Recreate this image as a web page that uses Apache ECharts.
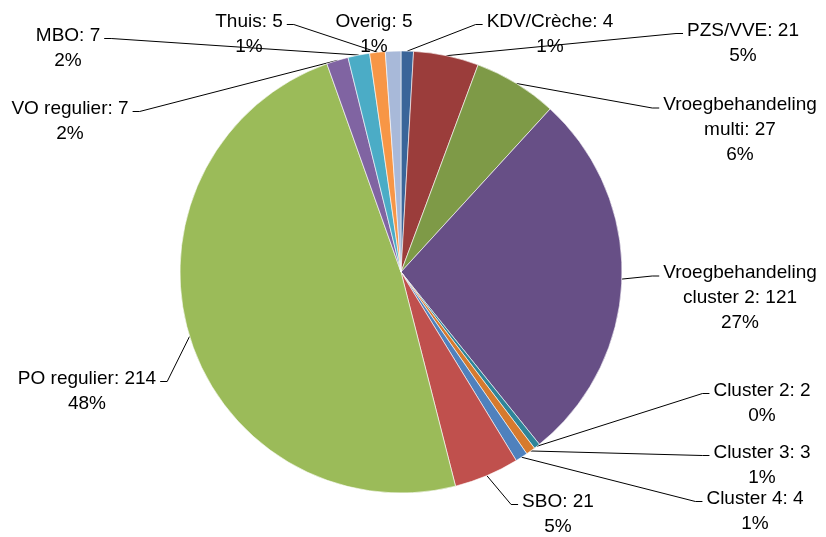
<!DOCTYPE html>
<html lang="nl">
<head>
    <meta charset="utf-8"/>
    <title>Verdeling</title>
    <script src="https://cdn.jsdelivr.net/npm/echarts@6/dist/echarts.min.js"></script>
    <style>
        html, body { margin: 0; padding: 0; background: #fff; }
        #chart { width: 826px; height: 537px; }
    </style>
</head>
<body>
    <div id="chart"></div>
    <script>
        // data, clockwise from 12 o'clock
        const categories = ['KDV/Crèche', 'PZS/VVE', 'Vroegbehandeling multi', 'Vroegbehandeling cluster 2',
            'Cluster 2', 'Cluster 3', 'Cluster 4', 'SBO', 'PO regulier', 'VO regulier', 'MBO', 'Thuis', 'Overig'];
        const values = [4, 21, 27, 121, 2, 3, 4, 21, 214, 7, 7, 5, 5];

        const colors = ['#3a6599', '#9b3d3b', '#7e9a47', '#674f86', '#2f8599', '#d67a2e', '#4f81bd',
            '#c0504d', '#9bbb59', '#8064a2', '#4bacc6', '#f79646', '#a8b9d9'];
        // label block centres (px)
        const labelPos = [[550, 34], [743, 43], [740, 130], [740, 298], [762, 403], [762, 465], [755, 511],
            [558, 514], [87, 391], [70, 121], [68, 48], [249, 34], [374, 34]];

        const FONT = '19px "Liberation Sans"';
        const LINE_H = 25;
        const ctx = document.createElement('canvas').getContext('2d');
        ctx.font = FONT;

        function labelText(name, value, percent) {
            const n = name.replace('Vroegbehandeling ', 'Vroegbehandeling\n');
            return n + ': ' + value + '\n' + percent + '%';
        }

        const chart = echarts.init(document.getElementById('chart'));
        const option = {
            animation: false,
            series: [{
                type: 'pie',
                center: [401, 272],
                radius: 221,
                startAngle: 90,
                clockwise: true,
                percentPrecision: 0,
                data: categories.map(function (name, i) {
                    return { name: name, value: values[i], itemStyle: { color: colors[i] } };
                }),
                itemStyle: { borderColor: '#fff', borderWidth: 0.6 },
                label: {
                    position: 'outside',
                    color: '#000',
                    fontFamily: 'Liberation Sans',
                    fontSize: 19,
                    lineHeight: LINE_H,
                    align: 'center',
                    formatter: function (p) {
                        return labelText(p.name, p.value, p.percent);
                    }
                },
                labelLine: {
                    show: true,
                    length: 10,
                    length2: 10,
                    lineStyle: { color: '#000', width: 1 }
                },
                labelLayout: function (params) {
                    const pos = labelPos[params.dataIndex];
                    const h = params.labelRect.height;
                    const first = params.text.split('\n')[0];
                    const w = ctx.measureText(first).width;
                    const lineY = pos[1] - h / 2 + LINE_H / 2 + 3;
                    const rim = params.labelLinePoints[0];
                    let pts;
                    if (rim[0] < pos[0] - w / 2) {
                        const ax = pos[0] - w / 2 - 4;
                        pts = [rim, [ax - 7, lineY], [ax, lineY]];
                    } else if (rim[0] > pos[0] + w / 2) {
                        const ax = pos[0] + w / 2 + 4;
                        pts = [rim, [ax + 7, lineY], [ax, lineY]];
                    } else {
                        pts = [rim, rim, rim];
                    }
                    return {
                        x: pos[0], y: pos[1], align: 'center', verticalAlign: 'middle',
                        labelLinePoints: pts
                    };
                },
                emphasis: { disabled: true }
            }]
        };
        chart.setOption(option);
    </script>
</body>
</html>
